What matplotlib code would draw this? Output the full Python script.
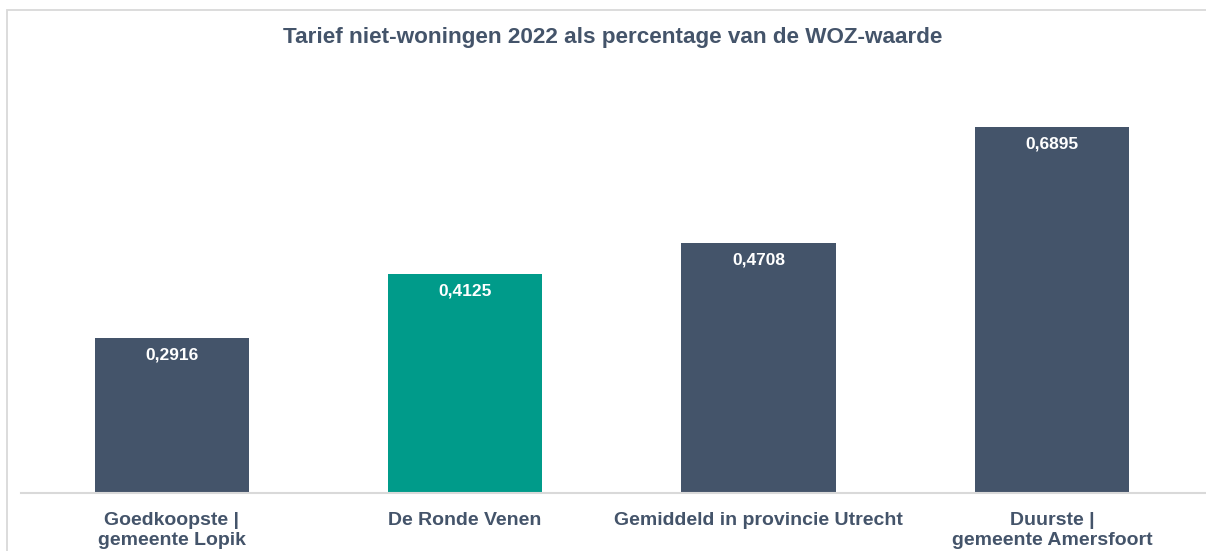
import matplotlib.pyplot as plt
from matplotlib.patches import Rectangle

plt.rcParams['font.family'] = ['Liberation Sans', 'DejaVu Sans']

# chart data
categories = ['Goedkoopste |\ngemeente Lopik', 'De Ronde Venen',
              'Gemiddeld in provincie Utrecht', 'Duurste |\ngemeente Amersfoort']
values = [0.2916, 0.4125, 0.4708, 0.6895]
value_labels = ['0,2916', '0,4125', '0,4708', '0,6895']
bar_colors = ['#44546A', '#009B8A', '#44546A', '#44546A']

TEXT_COLOR = '#44546A'
GRID_COLOR = '#D9D9D9'

W, H = 1206, 551
fig = plt.figure(figsize=(W / 100, H / 100), dpi=100)

# light border round the chart area (cut off at right and bottom like the screenshot)
fig.patches.append(Rectangle((7 / W, -0.05), 1.1, 1 - 10 / H + 0.05,
                             transform=fig.transFigure, fill=False,
                             edgecolor=GRID_COLOR, linewidth=1.3))

left, right = 21 / W, 1.0
bottom, top = 1 - 493 / H, 1 - 68.4 / H
ax = fig.add_axes([left, bottom, right - left, top - bottom])

x = range(len(categories))
ax.bar(x, values, width=0.525, color=bar_colors)

for xi, v, lab in zip(x, values, value_labels):
    ax.annotate(lab, (xi, v), xytext=(0, -17), textcoords='offset pixels',
                ha='center', va='center', color='white', fontsize=12.5,
                fontweight='bold')

ax.set_xlim(-0.513, 3.525)
ax.set_ylim(0, 0.8)
ax.set_yticks([])
ax.set_xticks(list(x))
ax.set_xticklabels(categories, fontsize=14, fontweight='bold', color=TEXT_COLOR,
                   linespacing=1.2)
ax.tick_params(axis='x', length=0, pad=14)
for s in ['top', 'right', 'left']:
    ax.spines[s].set_visible(False)
ax.spines['bottom'].set_color(GRID_COLOR)
ax.spines['bottom'].set_linewidth(1.5)

fig.text(613 / W, 1 - 37.5 / H, 'Tarief niet-woningen 2022 als percentage van de WOZ-waarde',
         ha='center', va='center', fontsize=16.2, fontweight='bold', color=TEXT_COLOR)

fig.savefig('out.png', dpi=100)
